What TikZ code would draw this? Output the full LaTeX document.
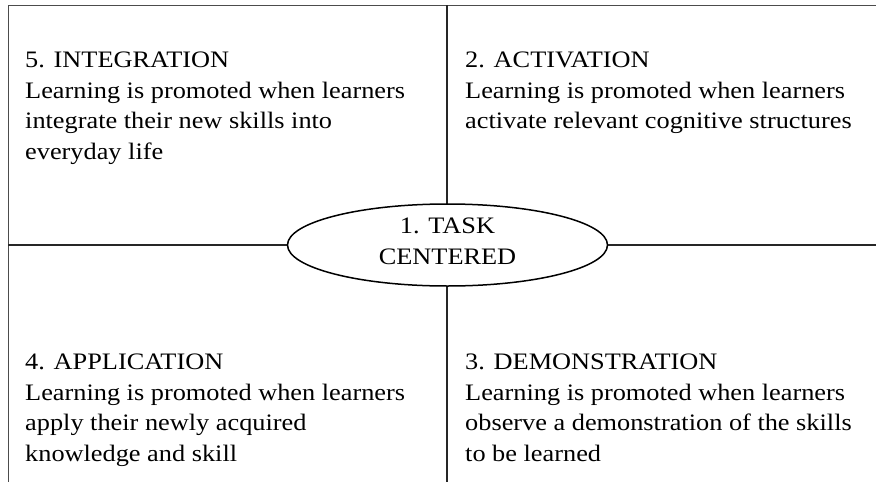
\documentclass[tikz,border=0pt]{standalone}
\usepackage{fontspec}
\setmainfont[FakeStretch=1.115]{Liberation Serif}
\usetikzlibrary{shapes.geometric}
\begin{document}
\begin{tikzpicture}[x=1pt,y=-1pt,
  txt/.style={inner sep=0pt,align=left,anchor=north west,font=\fontsize{23.6}{30.8}\selectfont,text=black},
  border/.style={draw=black!70,line width=1pt},
  cross/.style={draw=black!85,line width=1.8pt},
  oval/.style={ellipse,draw=black,line width=1.5pt,fill=white,minimum width=320pt,minimum height=82pt,inner sep=0pt,text depth=8pt,align=center,font=\fontsize{23.6}{31.5}\selectfont,text=black}]
\useasboundingbox (0,0) rectangle (876,482);
\coordinate (tl) at (8,5);
\coordinate (tr) at (876,5);
\coordinate (bl) at (8,482);
\coordinate (tm) at (447,5);
\coordinate (bm) at (447,482);
\coordinate (ml) at (8,245);
\coordinate (mr) at (876,245);
\draw[border] (bl) -- (tl) -- (tr);
\draw[cross] (tm) -- (bm);
\draw[cross] (ml) -- (mr);
\node[oval] (c) at (447.5,245) {1. TASK\\CENTERED};
\node[txt] (q5) at (25,51.5) {5. INTEGRATION\\Learning is promoted when learners\\integrate their new skills into\\everyday life};
\node[txt] (q2) at (465,51.5) {2. ACTIVATION\\Learning is promoted when learners\\activate relevant cognitive structures};
\node[txt] (q4) at (25,353.5) {4. APPLICATION\\Learning is promoted when learners\\apply their newly acquired\\knowledge and skill};
\node[txt] (q3) at (465,353.5) {3. DEMONSTRATION\\Learning is promoted when learners\\observe a demonstration of the skills\\to be learned};
\end{tikzpicture}
\end{document}
